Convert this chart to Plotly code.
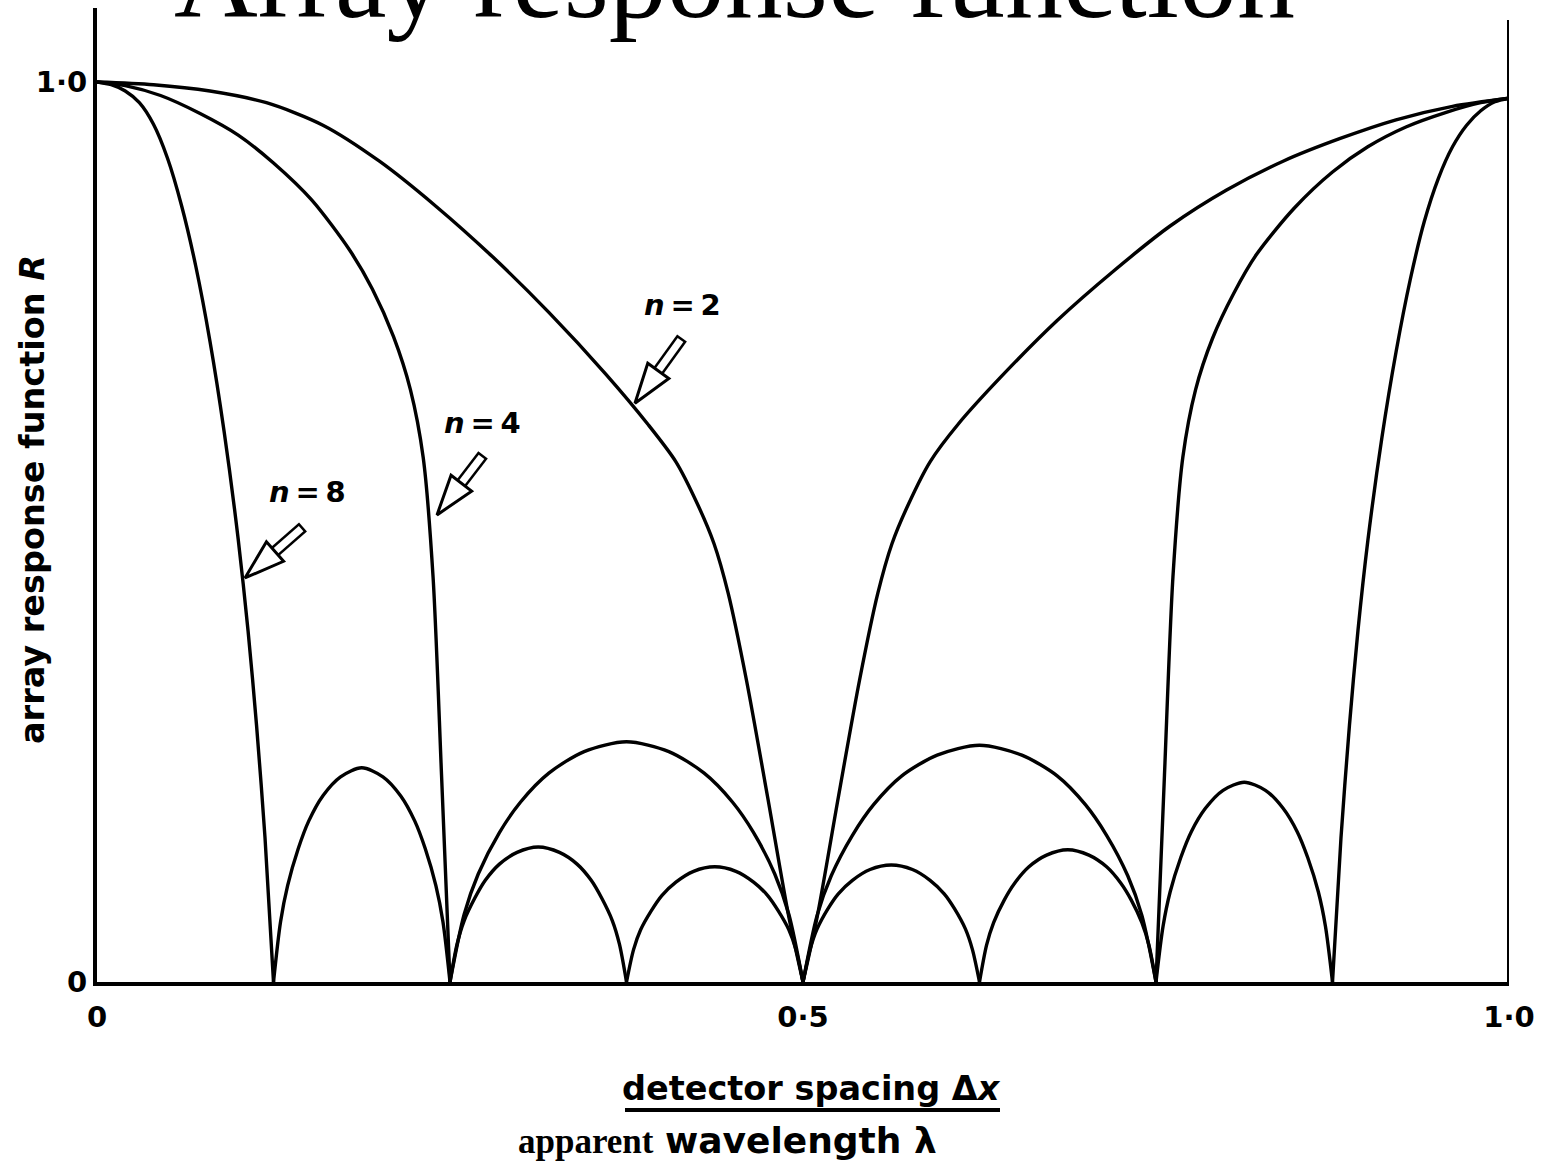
import math
import plotly.graph_objects as go

# ---------------- data ----------------
# n = 2
x_n2 = [0, 0.04, 0.08, 0.12, 0.16, 0.20, 0.24, 0.28, 0.32, 0.36, 0.39, 0.41, 0.425, 0.437, 0.447, 0.46, 0.475, 0.49, 0.5,
        0.51, 0.525, 0.54, 0.553, 0.563, 0.575, 0.59, 0.61, 0.64, 0.68, 0.72, 0.76, 0.80, 0.84, 0.88, 0.92, 0.96, 1.0]
r_n2 = [1.0, 0.997, 0.99, 0.977, 0.952, 0.912, 0.862, 0.806, 0.744, 0.676, 0.62, 0.578, 0.532, 0.487, 0.432, 0.335, 0.205, 0.072, 0.0,
        0.072, 0.205, 0.335, 0.432, 0.487, 0.532, 0.578, 0.62, 0.672, 0.735, 0.79, 0.84, 0.88, 0.912, 0.937, 0.958, 0.973, 0.982]

# n = 4
x_n4 = [0, 0.02, 0.045, 0.073, 0.1, 0.125, 0.152, 0.179, 0.195, 0.21, 0.222, 0.231, 0.238, 0.244, 0.25,
        0.26, 0.27, 0.285, 0.30, 0.32, 0.345, 0.375, 0.405, 0.43, 0.45, 0.465, 0.48, 0.49, 0.5,
        0.51, 0.52, 0.535, 0.55, 0.57, 0.595, 0.625, 0.655, 0.68, 0.70, 0.715, 0.73, 0.74, 0.75,
        0.756, 0.762, 0.769, 0.778, 0.79, 0.805, 0.821, 0.848, 0.875, 0.9, 0.927, 0.955, 0.98, 1.0]
r_n4 = [1.0, 0.996, 0.985, 0.965, 0.941, 0.91, 0.869, 0.813, 0.77, 0.717, 0.658, 0.583, 0.45, 0.23, 0.0,
        0.075, 0.12, 0.166, 0.2, 0.232, 0.256, 0.267, 0.256, 0.232, 0.2, 0.166, 0.12, 0.075, 0.0,
        0.074, 0.118, 0.163, 0.197, 0.229, 0.252, 0.263, 0.252, 0.229, 0.197, 0.163, 0.118, 0.074, 0.0,
        0.23, 0.45, 0.583, 0.658, 0.715, 0.765, 0.808, 0.86, 0.9, 0.928, 0.95, 0.966, 0.977, 0.982]

# n = 8
x_n8 = [0, 0.01, 0.02, 0.03, 0.04, 0.05, 0.06, 0.07, 0.08, 0.09, 0.1, 0.107, 0.113, 0.119, 0.125,
        0.13, 0.135, 0.1425, 0.15, 0.16, 0.1725, 0.1875, 0.2025, 0.215, 0.225, 0.2325, 0.24, 0.245, 0.25,
        0.255, 0.26, 0.2675, 0.275, 0.285, 0.2975, 0.3125, 0.3275, 0.34, 0.35, 0.3575, 0.365, 0.37, 0.375,
        0.38, 0.385, 0.3925, 0.4, 0.41, 0.4225, 0.4375, 0.4525, 0.465, 0.475, 0.4825, 0.49, 0.495, 0.5,
        0.505, 0.51, 0.5175, 0.525, 0.535, 0.5475, 0.5625, 0.5775, 0.59, 0.6, 0.6075, 0.615, 0.62, 0.625,
        0.63, 0.635, 0.6425, 0.65, 0.66, 0.6725, 0.6875, 0.7025, 0.715, 0.725, 0.7325, 0.74, 0.745, 0.75,
        0.755, 0.76, 0.7675, 0.775, 0.785, 0.7975, 0.8125, 0.8275, 0.84, 0.85, 0.8575, 0.865, 0.87, 0.875,
        0.881, 0.887, 0.893, 0.9, 0.91, 0.92, 0.93, 0.94, 0.95, 0.96, 0.97, 0.98, 0.99, 1.0]
r_n8 = [1.0, 0.997, 0.99, 0.977, 0.953, 0.915, 0.862, 0.795, 0.712, 0.612, 0.492, 0.39, 0.285, 0.16, 0.0,
        0.067, 0.107, 0.148, 0.179, 0.207, 0.228, 0.238, 0.228, 0.207, 0.179, 0.148, 0.107, 0.067, 0.0,
        0.042, 0.068, 0.093, 0.113, 0.131, 0.144, 0.150, 0.144, 0.131, 0.113, 0.093, 0.068, 0.042, 0.0,
        0.036, 0.058, 0.079, 0.096, 0.111, 0.123, 0.128, 0.123, 0.111, 0.096, 0.079, 0.058, 0.036, 0.0,
        0.036, 0.059, 0.081, 0.098, 0.113, 0.125, 0.130, 0.125, 0.113, 0.098, 0.081, 0.059, 0.036, 0.0,
        0.041, 0.066, 0.091, 0.110, 0.128, 0.141, 0.147, 0.141, 0.128, 0.110, 0.091, 0.066, 0.041, 0.0,
        0.062, 0.100, 0.138, 0.167, 0.193, 0.213, 0.222, 0.213, 0.193, 0.167, 0.138, 0.100, 0.062, 0.0,
        0.16, 0.285, 0.39, 0.49, 0.605, 0.70, 0.78, 0.845, 0.893, 0.928, 0.952, 0.968, 0.978, 0.982]

curves = {"n = 2": (x_n2, r_n2), "n = 4": (x_n4, r_n4), "n = 8": (x_n8, r_n8)}

x_tickvals = [0, 0.5, 1.0]
x_ticktext = ["0", "0·5", "1·0"]
y_tickvals = [0, 1.0]
y_ticktext = ["0", "1·0"]

# label text, label centre (x, R), arrow tail (x, R), arrow tip (x, R)
label_text = ["<i>n</i>\u2009=\u20092", "<i>n</i>\u2009=\u20094", "<i>n</i>\u2009=\u20098"]
label_pos = [(0.415, 0.752), (0.273, 0.621), (0.149, 0.544)]
arrow_tail = [(0.4143, 0.7156), (0.2734, 0.5856), (0.1459, 0.5056)]
arrow_tip = [(0.381, 0.643), (0.2408, 0.519), (0.1048, 0.449)]

SANS = "DejaVu Sans"
SERIF = "Liberation Serif"

W, H = 1548, 1172
ml, mr, mt, mb = 97, 39, 8, 190
plot_w = W - ml - mr          # 1412
plot_h = H - mt - mb          # 974
PX_PER_Y = 900.0              # R = 1 spans 900 px
y_top = plot_h / PX_PER_Y


def split_lobes(xs, rs):
    """Break a curve at its interior zeros so each lobe is smoothed on its own."""
    ox, oy = [], []
    for i, (a, b) in enumerate(zip(xs, rs)):
        ox.append(a)
        oy.append(b)
        if b == 0 and 0 < i < len(xs) - 1:
            ox += [None, a]
            oy += [None, b]
    return ox, oy


fig = go.Figure()
for name, (xs, rs) in curves.items():
    sx, sy = split_lobes(xs, rs)
    fig.add_trace(go.Scatter(x=sx, y=sy, mode="lines", name=name,
                             line=dict(color="black", width=3.4, shape="spline", smoothing=0.8),
                             connectgaps=False, showlegend=False, hoverinfo="skip"))

fig.update_layout(
    width=W, height=H,
    margin=dict(l=ml, r=mr, t=mt, b=mb, pad=0),
    paper_bgcolor="white", plot_bgcolor="white",
    xaxis=dict(range=[0, 1], showgrid=False, zeroline=False, showline=True,
               linecolor="black", linewidth=4, ticks="", tickvals=x_tickvals,
               ticktext=x_ticktext, ticklabelstandoff=6,
               tickfont=dict(family=SANS, size=29, color="black", weight="bold")),
    yaxis=dict(range=[0, y_top], showgrid=False, zeroline=False, showline=True,
               linecolor="black", linewidth=4, ticks="", tickvals=y_tickvals,
               ticktext=y_ticktext, ticklabelstandoff=0,
               tickfont=dict(family=SANS, size=29, color="black", weight="bold")),
)

# right-hand vertical line
fig.add_shape(type="line", xref="x", yref="y", x0=1, x1=1, y0=0, y1=(982 - 20) / PX_PER_Y,
              line=dict(color="black", width=4))


def px_to_paper_x(px):
    return (px - ml) / plot_w


def px_to_paper_y(py):
    return (H - mb - py) / plot_h


# title (partly cut by the top edge)
fig.add_annotation(text="Array response function", xref="paper", yref="paper",
                   x=px_to_paper_x(734), y=px_to_paper_y(-22), xanchor="center", yanchor="middle",
                   showarrow=False, font=dict(family=SERIF, size=116, color="black"))

# y-axis title
fig.add_annotation(text="array response function <i>R</i>", xref="paper", yref="paper",
                   x=px_to_paper_x(32), y=px_to_paper_y(500), textangle=-90,
                   xanchor="center", yanchor="middle", showarrow=False,
                   font=dict(family=SANS, size=33.5, color="black", weight="bold"))

# x-axis title lines
fig.add_annotation(text="detector spacing Δ<i>x</i>", xref="paper", yref="paper",
                   x=px_to_paper_x(811), y=px_to_paper_y(1088), xanchor="center", yanchor="middle",
                   showarrow=False, font=dict(family=SANS, size=33.5, color="black", weight="bold"))
fig.add_shape(type="line", xref="paper", yref="paper",
              x0=px_to_paper_x(625), x1=px_to_paper_x(1000),
              y0=px_to_paper_y(1110), y1=px_to_paper_y(1110),
              line=dict(color="black", width=4))
fig.add_annotation(
    text=("<span style='font-family:Liberation Serif;font-size:35px'>apparent</span> "
          "<span style='font-family:DejaVu Sans;font-size:36px'>wavelength λ</span>"),
    xref="paper", yref="paper", x=px_to_paper_x(727), y=px_to_paper_y(1140),
    xanchor="center", yanchor="middle", showarrow=False,
    font=dict(family=SANS, size=33, color="black", weight="bold"))


# curve labels with hollow block arrows
def offset(pt, ux, uy, dist):
    """Move a data point by dist pixels along the screen unit vector (ux, uy)."""
    return pt[0] + ux * dist / plot_w, pt[1] - uy * dist / PX_PER_Y


for txt, lp, tail, tip in zip(label_text, label_pos, arrow_tail, arrow_tip):
    fig.add_annotation(text=txt, x=lp[0], y=lp[1], xref="x", yref="y", showarrow=False,
                       font=dict(family=SANS, size=29, color="black", weight="bold"))
    dx = (tail[0] - tip[0]) * plot_w
    dy = -(tail[1] - tip[1]) * PX_PER_Y
    L = math.hypot(dx, dy)
    ux, uy = dx / L, dy / L               # unit vector tip -> tail (screen px)
    neck = offset(tip, ux, uy, 24)
    tail_in = offset(tail, ux, uy, -2.5)
    fig.add_trace(go.Scatter(x=[tail[0], neck[0]], y=[tail[1], neck[1]], mode="lines",
                             line=dict(color="black", width=12), showlegend=False, hoverinfo="skip"))
    fig.add_trace(go.Scatter(x=[tail_in[0], neck[0]], y=[tail_in[1], neck[1]], mode="lines",
                             line=dict(color="white", width=7), showlegend=False, hoverinfo="skip"))
    fig.add_trace(go.Scatter(x=[neck[0], tip[0]], y=[neck[1], tip[1]], mode="markers",
                             marker=dict(symbol="arrow", size=[0, 42], angleref="previous", opacity=1,
                                         color="white", line=dict(color="black", width=3)),
                             showlegend=False, hoverinfo="skip"))

fig.write_html("out.html", config={"displayModeBar": False},
               post_script="document.body.style.margin='0px';")
